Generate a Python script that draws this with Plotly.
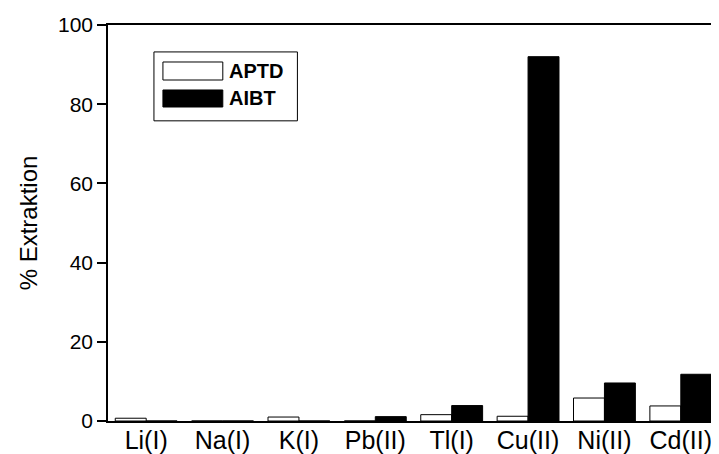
import plotly.graph_objects as go

categories = ["Li(I)", "Na(I)", "K(I)", "Pb(II)", "Tl(I)", "Cu(II)", "Ni(II)", "Cd(II)"]
aptd = [0.7, 0.0, 1.0, 0.0, 1.6, 1.2, 5.8, 3.8]
aibt = [0.0, 0.0, 0.0, 1.1, 3.9, 92.0, 9.6, 11.8]
series_names = ["APTD", "AIBT"]
y_ticks = [0, 20, 40, 60, 80, 100]

FONT = "Liberation Sans, Arial, sans-serif"

fig = go.Figure()
fig.add_trace(go.Bar(x=categories, y=aptd, name=series_names[0],
                     marker=dict(color="white", line=dict(color="black", width=1))))
fig.add_trace(go.Bar(x=categories, y=aibt, name=series_names[1],
                     marker=dict(color="black", line=dict(color="black", width=1))))

# custom legend (large swatches as in the original)
fig.add_shape(type="rect", xref="paper", yref="paper", x0=0.0752, x1=0.310, y0=0.758, y1=0.932,
              line=dict(color="black", width=1), fillcolor="white")
fig.add_shape(type="rect", xref="paper", yref="paper", x0=0.0899, x1=0.1879, y0=0.8611, y1=0.9066,
              line=dict(color="black", width=1), fillcolor="white")
fig.add_shape(type="rect", xref="paper", yref="paper", x0=0.0899, x1=0.1879, y0=0.7929, y1=0.8359,
              line=dict(color="black", width=1), fillcolor="black")
for name, yc in zip(series_names, [0.8838, 0.8144]):
    fig.add_annotation(xref="paper", yref="paper", x=0.1944, y=yc, text="<b>%s</b>" % name,
                       showarrow=False, xanchor="left", yanchor="middle",
                       font=dict(family=FONT, size=20, color="black"))

fig.update_layout(
    width=711, height=446,
    margin=dict(l=100, r=0, t=17, b=33),
    paper_bgcolor="white", plot_bgcolor="white",
    barmode="group", bargap=0.19, bargroupgap=0,
    showlegend=False,
    font=dict(family=FONT, color="black"),
)
fig.update_xaxes(
    range=[-0.5, 7.5], showgrid=False, zeroline=False,
    showline=True, linecolor="black", linewidth=1.5, mirror=True,
    ticks="", tickfont=dict(size=25, family=FONT, color="black"),
    ticklabelstandoff=-4,
    automargin=False,
)
fig.update_yaxes(
    range=[0, 100], tickvals=y_ticks, showgrid=False, zeroline=False,
    showline=True, linecolor="black", linewidth=1.5, mirror=False,
    ticks="outside", ticklen=9, tickwidth=1.5, tickcolor="black",
    tickfont=dict(size=21, family=FONT, color="black"),
    title=dict(text="% Extraktion", font=dict(size=24, family=FONT, color="black"), standoff=14),
    automargin=False,
)

fig.write_html("out.html")
